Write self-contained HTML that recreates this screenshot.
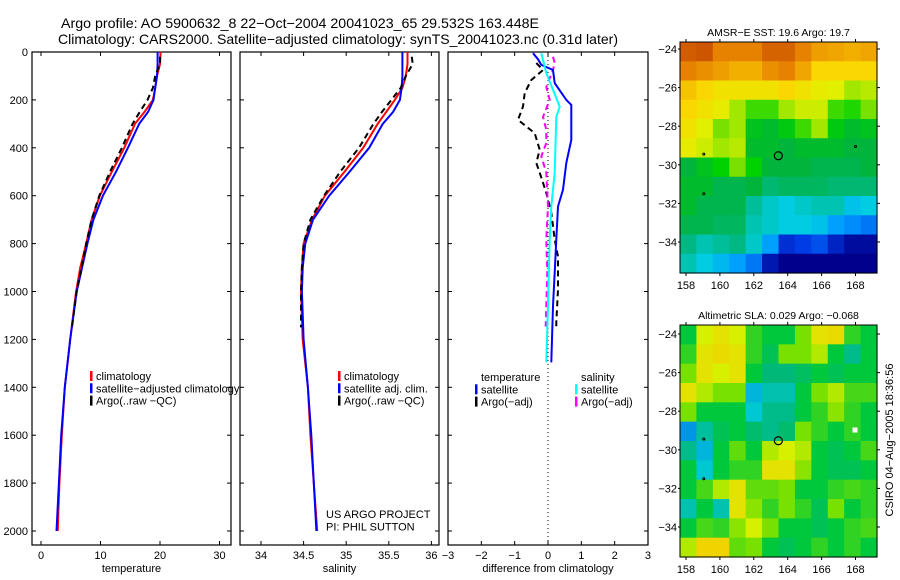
<!DOCTYPE html>
<html><head><meta charset="utf-8"><style>
html,body{margin:0;padding:0;background:#fff;}
svg{display:block;font-family:"Liberation Sans",sans-serif;}
</style></head><body>
<svg id="chart" width="900" height="580" viewBox="0 0 900 580" xmlns="http://www.w3.org/2000/svg">
<rect width="900" height="580" fill="#fff"/>
<text x="61" y="28" font-size="14" textLength="478" lengthAdjust="spacingAndGlyphs">Argo profile: AO 5900632_8 22−Oct−2004 20041023_65 29.532S 163.448E</text>
<text x="58" y="44" font-size="14" textLength="560" lengthAdjust="spacingAndGlyphs">Climatology: CARS2000. Satellite−adjusted climatology: synTS_20041023.nc (0.31d later)</text>
<g id="g"></g>
<text transform="translate(893,440) rotate(-90)" font-size="11" text-anchor="middle">CSIRO 04−Aug−2005 18:36:56</text>
</svg>
<script>
// ---------- data ----------
const depthT=[0,50,100,150,200,250,300,400,500,600,700,800,900,1000,1200,1400,1600,1800,2000];
const tempClim=[20.1,20.0,19.5,19.2,18.8,17.4,15.8,14.0,11.9,9.9,8.5,7.6,6.6,5.9,4.9,4.0,3.5,3.1,2.8];
const tempSat=[19.6,19.6,19.5,19.2,18.9,18.0,16.5,14.6,12.6,10.4,8.8,7.8,6.9,6.0,4.9,4.0,3.4,3.0,2.6];
const depthArgo=[20,50,100,150,200,250,300,400,500,600,700,800,900,1000,1150];
const tempArgo=[20.0,20.0,19.2,18.8,17.9,16.6,15.4,13.6,11.6,9.8,8.5,7.6,6.8,6.0,5.2];
const salClim=[35.72,35.72,35.70,35.66,35.57,35.47,35.37,35.20,34.98,34.75,34.60,34.50,34.48,34.47,34.49,34.55,34.58,34.62,34.66];
const salSat=[35.66,35.66,35.66,35.65,35.63,35.55,35.43,35.27,35.04,34.80,34.61,34.52,34.49,34.48,34.50,34.55,34.59,34.62,34.65];
const salArgo=[35.77,35.78,35.70,35.64,35.53,35.42,35.32,35.15,34.93,34.74,34.58,34.50,34.48,34.47,34.47];
const dTsatDepth=[5,30,54,75,130,200,221,367,463,575,645,783,921,1061,1296];
const dTsat=[-0.45,-0.3,-0.2,0.15,0.2,0.55,0.7,0.7,0.55,0.45,0.3,0.25,0.2,0.15,0.1];
const dSsatDepth=[5,88,158,229,271,504,645,783,1061,1296];
const dSsat=[-0.2,-0.05,0.15,0.35,0.25,0.2,0.1,0.05,0,-0.05];
const dTargoDepth=[46,75,117,171,228,283,339,408,463,504,588,671,783,854,992,1129,1158];
const dTargo=[-0.35,-0.15,-0.5,-0.7,-0.75,-0.9,-0.4,-0.25,-0.35,-0.25,-0.05,0.1,0.2,0.3,0.3,0.25,0.25];
const dSargoDepth=[20,46,75,146,200,271,325,380,436,504,645,783,921,1146];
const dSargo=[0.15,0.2,0.15,-0.05,0.05,-0.15,-0.05,-0.05,-0.2,-0.05,0,-0.05,-0.02,-0.07];
const depthTicks=[0,200,400,600,800,1000,1200,1400,1600,1800,2000];
const tempTicks=[0,10,20,30];
const salTicks=[34,34.5,35,35.5,36];
const diffTicks=[-3,-2,-1,0,1,2,3];
const lonTicks=[158,160,162,164,166,168];
const latTicks=[-24,-26,-28,-30,-32,-34];
const sstGrid=[
[22.5,22.6,22,22,22,22.4,22.4,22,21.6,21.5,21.4,21.5],
[22,21.8,21.6,21.4,21.4,21.8,22,21.5,21,21,21,21],
[21.2,21,20.8,20.8,20.8,20.8,21,20.8,20.6,20.5,20.2,20.3],
[21,20.8,20.6,20.2,19.8,19.8,20.2,20.4,20.4,19.8,19.7,20],
[20.8,20.5,20,20.2,19.4,19.3,19.5,19.8,20.2,19.5,19.3,19.4],
[20.6,20.4,20.2,20.3,19.3,19.3,19.2,19.3,19.3,19.3,19.2,19.2],
[19.2,19.4,19.6,20,19.6,19.2,19.2,19.2,19.1,19.1,19.1,19.2],
[19.3,19.3,19.1,19.1,19.2,18.9,19,19,19,18.9,18.9,18.9],
[19.3,19.1,19.1,19.1,18.7,18.5,18.4,18.5,18.6,18.6,18.3,18.4],
[19.1,19.1,19,19,18.6,18.5,18.4,18.4,18.3,18,17.9,17.8],
[18.8,18.6,18.7,18.8,18.5,18,17.4,17.5,17.6,17.3,17.1,17.1],
[18.6,18.4,18.2,18,17.8,17.2,17,17,17,17,17,17]];
const slaGrid=[
[0,0.1,0.12,0.1,0.02,0,0,0.05,0.12,0.13,0.02,0],
[0.02,0.12,0.13,0.12,0.02,-0.02,0.05,0.05,0.08,0,-0.06,0],
[0.05,0.12,0.1,0.12,0,-0.05,-0.05,-0.03,0,-0.02,0,0],
[0.12,0.08,0.05,0.05,-0.12,-0.08,-0.08,0,0.05,0.08,0.03,0.03],
[0.05,0,0,0,-0.1,-0.06,-0.06,0,0.02,0.06,0.02,0],
[-0.15,-0.07,-0.02,0,-0.04,-0.06,-0.04,0.05,0.02,0,0.02,0],
[-0.06,-0.12,0,0.04,0,0.08,0.1,0.08,0,-0.02,0,0.03],
[0,-0.1,0,0.02,0.02,0.12,0.12,0.06,0,-0.02,-0.02,0],
[0,0.03,0.08,0.12,0.04,0.04,0.05,0,0,0.02,0.03,0.02],
[-0.08,0,-0.08,0.12,0.06,0.02,0.05,0.02,-0.02,0.05,0,0.02],
[0,0.03,0.02,0.06,0.1,0.05,0,0,-0.02,0,0.02,0.03],
[0.08,0.14,0.14,0.04,0.05,0,-0.02,0,0.02,0,0.02,0]];
const argoLon=163.448, argoLat=-29.532;

// ---------- helpers ----------
const NS="http://www.w3.org/2000/svg";
const G=document.getElementById('g');
function mk(tag,attrs,parent){const e=document.createElementNS(NS,tag);for(const k in attrs)e.setAttribute(k,attrs[k]);(parent||G).appendChild(e);return e;}
const TOP=52,BOT=545;
const yD=d=>TOP+d*0.2395;
const xT=v=>41+v*5.95;
const xS=v=>261+(v-34)*85.2;
const xDf=v=>548+v*33.33;

function panel(name,x0,x1,ticks,xf,lbl,title,yLabels){
  const gp=mk('g',{});
  
  
  const r=mk('rect',{x:x0,y:TOP,width:x1-x0,height:BOT-TOP,fill:'none',stroke:'#000','stroke-width':1.2},gp);
  
  
  ticks.forEach(t=>{const x=xf(t);
    mk('line',{x1:x,x2:x,y1:TOP,y2:TOP+4,stroke:'#000'},gp);
    mk('line',{x1:x,x2:x,y1:BOT,y2:BOT-4,stroke:'#000'},gp);
    const tx=mk('text',{x:x,y:BOT+14,'font-size':11,'text-anchor':'middle'},gp);tx.textContent=lbl(t);
    
    
  });
  depthTicks.forEach(d=>{const y=yD(d);
    mk('line',{x1:x0,x2:x0+4,y1:y,y2:y,stroke:'#000'},gp);
    mk('line',{x1:x1,x2:x1-4,y1:y,y2:y,stroke:'#000'},gp);
    if(yLabels){const tx=mk('text',{x:x0-4,y:y+4,'font-size':11,'text-anchor':'end'},gp);tx.textContent=d;
      
      }
  });
  const tt=mk('text',{x:(x0+x1)/2,y:BOT+27,'font-size':11,'text-anchor':'middle'},gp);tt.textContent=title;
  
  
  return gp;
}
function line(par,xs,ds,xf,color,dash,name){
  const pts=xs.map((v,i)=>xf(v).toFixed(1)+','+yD(ds[i]).toFixed(1)).join(' ');
  const p=mk('polyline',{points:pts,fill:'none',stroke:color,'stroke-width':2,'stroke-dasharray':dash||'none'},par);
  
  
}
function legend(par,x,y,items){
  items.forEach((it,i)=>{const yy=y+i*12.3;
    if(it.c){mk('rect',{x:x,y:yy-9,width:2.5,height:10,fill:it.c},par);}
    const t=mk('text',{x:x+6,y:yy,'font-size':11},par);t.textContent=it.t;
    
    
  });
}
const minus=s=>String(s).replace('-','−');

// Panel 1 temperature
const p1=panel('temperature-panel',32,231,tempTicks,xT,t=>t,'temperature',true);
line(p1,tempClim,depthT,xT,'#f00','','climatology-temp-line');
line(p1,tempSat,depthT,xT,'#00f','','satellite-temp-line');
line(p1,tempArgo,depthArgo,xT,'#000','6,4','argo-temp-line');
legend(p1,90,380,[{c:'#f00',t:'climatology'},{c:'#00f',t:'satellite−adjusted climatology'},{c:'#000',t:'Argo(..raw −QC)'}]);

// Panel 2 salinity
const p2=panel('salinity-panel',240,439,salTicks,xS,t=>t,'salinity',false);
line(p2,salClim,depthT,xS,'#f00','','climatology-salinity-line');
line(p2,salSat,depthT,xS,'#00f','','satellite-salinity-line');
line(p2,salArgo,depthArgo,xS,'#000','6,4','argo-salinity-line');
legend(p2,338,380,[{c:'#f00',t:'climatology'},{c:'#00f',t:'satellite adj. clim.'},{c:'#000',t:'Argo(..raw −QC)'}]);
legend(p2,320,518,[{t:'US ARGO PROJECT'},{t:'PI: PHIL SUTTON'}]);

// Panel 3 difference
const p3=panel('difference-panel',448,648,diffTicks,xDf,t=>minus(t),'difference from climatology',false);
const zl=mk('line',{x1:xDf(0),x2:xDf(0),y1:TOP,y2:BOT,stroke:'#000','stroke-dasharray':'1,3'},p3);


line(p3,dTargo,dTargoDepth,xDf,'#000','6,4','argo-temp-diff-line');
line(p3,dSargo,dSargoDepth,xDf,'#f0f','6,4','argo-salinity-diff-line');
line(p3,dTsat,dTsatDepth,xDf,'#00f','','satellite-temp-diff-line');
line(p3,dSsat,dSsatDepth,xDf,'#0ff','','satellite-salinity-diff-line');
legend(p3,475,381,[{t:'temperature'},{c:'#00f',t:'satellite'},{c:'#000',t:'Argo(−adj)'}]);
legend(p3,575,381,[{t:'salinity'},{c:'#0ff',t:'satellite'},{c:'#f0f',t:'Argo(−adj)'}]);

// ---------- maps ----------
function interp(stops,v){
  if(v<=stops[0][0])return stops[0][1];
  for(let i=1;i<stops.length;i++){if(v<=stops[i][0]){const a=stops[i-1],b=stops[i],f=(v-a[0])/(b[0]-a[0]);
    const c=a[1].map((x,k)=>Math.round(x+(b[1][k]-x)*f));return c;}}
  return stops[stops.length-1][1];
}
const sstStops=[[17,[0,0,140]],[17.5,[0,60,230]],[18,[0,160,255]],[18.4,[0,205,225]],[18.8,[0,185,130]],[19.2,[0,180,60]],[19.6,[0,210,0]],[20,[120,225,0]],[20.5,[225,240,0]],[21,[250,215,0]],[21.5,[240,165,0]],[22,[230,130,0]],[22.6,[205,85,0]]];
const slaStops=[[-0.15,[0,150,230]],[-0.1,[0,200,210]],[-0.05,[0,185,120]],[0,[0,200,60]],[0.05,[120,225,0]],[0.1,[215,240,0]],[0.15,[245,205,0]]];
function map(name,y0,y1,lat24,lat34,grid,stops,title,marker){
  const x0=680,x1=877;
  const lonX=l=>686+(l-158)*16.95;
  const latY=l=>lat24+(-24-l)*(lat34-lat24)/10;
  const gm=mk('g',{});
  
  
  const nr=grid.length,nc=grid[0].length,cw=(x1-x0)/nc,ch=(y1-y0)/nr;
  grid.forEach((row,r)=>row.forEach((v,c)=>{
    const col=interp(stops,v);
    const cell=mk('rect',{x:(x0+c*cw).toFixed(2),y:(y0+r*ch).toFixed(2),width:(cw+0.6).toFixed(2),height:(ch+0.6).toFixed(2),fill:'rgb('+col.join(',')+')'},gm);
    
    
  }));
  mk('rect',{x:x0,y:y0,width:x1-x0,height:y1-y0,fill:'none',stroke:'#000'},gm);
  lonTicks.forEach(l=>{const x=lonX(l);
    mk('line',{x1:x,x2:x,y1:y0,y2:y0-3,stroke:'#000'},gm);
    mk('line',{x1:x,x2:x,y1:y1,y2:y1+3,stroke:'#000'},gm);
    const t=mk('text',{x:x,y:y1+16,'font-size':11,'text-anchor':'middle'},gm);t.textContent=l;
    
    });
  latTicks.forEach(l=>{const y=latY(l);
    mk('line',{x1:x1,x2:x1+3,y1:y,y2:y,stroke:'#000'},gm);
    mk('line',{x1:x0,x2:x0-2,y1:y,y2:y,stroke:'#000'},gm);
    const t=mk('text',{x:x0-3,y:y+4,'font-size':11,'text-anchor':'end'},gm);t.textContent=minus(l);
    
    });
  const tt=mk('text',{x:(x0+x1)/2,y:y0-6,'font-size':10.5,'text-anchor':'middle'},gm);tt.textContent=title;
  
  
  const ci=mk('circle',{cx:lonX(argoLon),cy:latY(argoLat),r:4,fill:'none',stroke:'#000','stroke-width':1.2},gm);
  
  
  mk('circle',{cx:lonX(159.05),cy:latY(-29.45),r:1,fill:'none',stroke:'#000'},gm);
  mk('circle',{cx:lonX(159.05),cy:latY(-31.5),r:1,fill:'none',stroke:'#000'},gm);
  if(marker){mk('rect',{x:lonX(168)-3,y:latY(-29)-3,width:5,height:5,fill:'#fff'},gm);}
  else{mk('circle',{cx:lonX(168),cy:latY(-29.05),r:1,fill:'none',stroke:'#000'},gm);}
}
map('sst-map',42,273,49,242,sstGrid,sstStops,'AMSR−E SST: 19.6 Argo: 19.7',false);
map('sla-map',325,557,334,527,slaGrid,slaStops,'Altimetric SLA: 0.029 Argo: −0.068',true);
</script>
</body></html>
